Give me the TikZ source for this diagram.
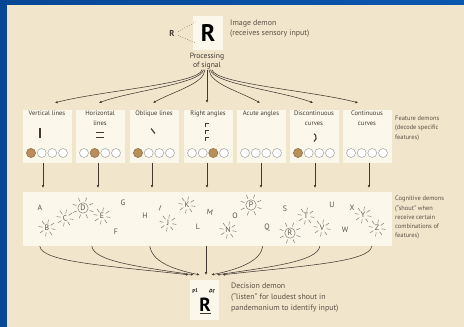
\documentclass[tikz,border=0pt]{standalone}
\usepackage{fontspec}
\setmainfont{PT Sans}
\usetikzlibrary{arrows.meta, positioning, calc}
\definecolor{slideblue}{RGB}{10, 87, 176}
\definecolor{slidedark}{RGB}{8, 70, 150}
\definecolor{paper}{RGB}{241, 229, 204}
\definecolor{panel}{RGB}{251, 247, 234}
\definecolor{ink}{RGB}{66, 58, 50}
\definecolor{labelgray}{RGB}{92, 80, 68}
\definecolor{lettergray}{RGB}{85, 80, 75}
\definecolor{ochre}{RGB}{184, 142, 90}

\tikzset{
  featbox/.style={fill=panel, minimum width=49pt, minimum height=53pt, inner sep=0pt},
  feattitle/.style={font=\fontsize{6.6}{9.8}\selectfont, text=ink, align=center, anchor=north, inner sep=1.2pt},
  sidelabel/.style={font=\fontsize{6.4}{9.3}\selectfont, text=labelgray, align=left, anchor=north west, inner sep=0pt},
  wire/.style={draw=ink, line width=0.55pt},
  tip/.style={-{Latex[length=2.6pt, width=2.6pt]}},
  lamp/.style={circle, draw=gray!65, fill=white, minimum size=9pt, inner sep=0pt, line width=0.6pt},
  lit/.style={lamp, fill=ochre, draw=ochre!85!black},
  letter/.style={font=\fontsize{7.8}{8}\selectfont, text=lettergray, inner sep=0.5pt},
  ray/.style={draw=lettergray!75, line width=0.5pt},
  shouting/.pic={\foreach \a in {10,55,100,145,190,235,280,325} \draw[ray] (\a:4.5) -- (\a:8.5);},
  loud/.pic={\draw[ray] (0,0) circle (5.2);
    \foreach \a in {20,65,110,155,200,245,290,335} \draw[ray] (\a:7) -- (\a:11);}
}

\begin{document}
\begin{tikzpicture}[x=1pt, y=-1pt]
  \useasboundingbox (0,0) rectangle (464,327);
  % slide background
  \shade[left color=slidedark, right color=slideblue] (0,0) rectangle (464,327);
  \fill[paper] (7,5) rectangle (464,327);

  % Image demon
  \node[fill=panel, minimum width=30pt, minimum height=34pt] (img) at (208,33) {};
  \node[font=\bfseries\fontsize{24}{24}\selectfont, text=black] (imgR) at (208,33) {R};
  \node[font=\bfseries\fontsize{8.5}{8.5}\selectfont, text=ink] (seen) at (172,33) {R};
  \draw[ink, dotted, line width=0.5pt] ([yshift=1.5pt]seen.east) -- ([xshift=3pt, yshift=-6pt]img.north west);
  \draw[ink, dotted, line width=0.5pt] ([yshift=-2.5pt]seen.east) -- ([xshift=3pt, yshift=7pt]img.south west);
  \node[sidelabel, font=\fontsize{7.9}{10}\selectfont] (imglabel) at (230,20) {Image demon\\(receives sensory input)};

  \node[font=\fontsize{7.6}{9}\selectfont, text=ink, align=center, inner sep=0pt] (proc) at (207,61.5) {Processing\\of signal};

  % Feature demons
  \foreach \x/\n in {47/1, 100/2, 154/3, 208/4, 261/5, 314/6, 367/7} {
    \node[featbox] (f\n) at (\x,136.5) {};
    \foreach \dx in {-16,-5.3,5.3,16}
      \node[lamp] at (\x+\dx,153) {};
  }
  \node[feattitle] at (f1.north) {Vertical lines};
  \node[feattitle] at (f2.north) {Horizontal\\lines};
  \node[feattitle] at (f3.north) {Oblique lines};
  \node[feattitle] at (f4.north) {Right angles};
  \node[feattitle] at (f5.north) {Acute angles};
  \node[feattitle] at (f6.north) {Discontinuous\\curves};
  \node[feattitle] at (f7.north) {Continuous\\curves};

  \node[lit] at (31,153) {};
  \node[lit] at (94.7,153) {};
  \node[lit] at (138,153) {};
  \node[lit] at (213.3,153) {};
  \node[lit] at (298,153) {};

  % feature symbols
  \draw[ink, line width=1.1pt] (40,128) -- (40,138);
  \draw[ink, line width=1pt] (96,132) -- (104,132) (96,137) -- (104,137);
  \draw[ink, line width=1.1pt] (151,128.5) -- (155,133.5);
  \draw[ink, line width=0.8pt] (205.5,127) -- (205.5,123) -- (208.5,123)
    (205.5,134) -- (205.5,130) -- (208.5,130) (205.5,141) -- (205.5,137) -- (208.5,137);
  \draw[ink, line width=1.1pt] (314,141.5) arc (60:-60:4.5);

  \node[sidelabel] (featlabel) at (395,116) {Feature demons\\(decode specific\\features)};

  % fan from the image demon
  \draw[wire, tip] ([xshift=-5pt]proc.south) .. controls +(-2,14) and +(45,-12) .. ([xshift=8pt, yshift=7pt]f1.north);
  \draw[wire, tip] ([xshift=-3.5pt]proc.south) .. controls +(-2,14) and +(32,-12) .. ([xshift=-1pt, yshift=7pt]f2.north);
  \draw[wire, tip] ([xshift=-2pt]proc.south) .. controls +(-1,14) and +(22,-12) .. ([xshift=-1pt, yshift=7pt]f3.north);
  \draw[wire, tip] (proc.south) -- ([xshift=-1pt, yshift=7pt]f4.north);
  \draw[wire, tip] ([xshift=2pt]proc.south) .. controls +(1,14) and +(-22,-12) .. ([xshift=-1pt, yshift=7pt]f5.north);
  \draw[wire, tip] ([xshift=3.5pt]proc.south) .. controls +(2,14) and +(-32,-12) .. ([xshift=-1pt, yshift=7pt]f6.north);
  \draw[wire, tip] ([xshift=5pt]proc.south) .. controls +(2,14) and +(-45,-12) .. ([xshift=-9pt, yshift=7pt]f7.north);

  % Cognitive demons
  \node[fill=panel, minimum width=369pt, minimum height=54pt, inner sep=0pt] (cog) at (207.5,219) {};

  \draw[wire, tip, shorten >=4pt] ([xshift=-4pt]f1.south) -- ([xshift=-4pt]f1.south |- cog.north);
  \draw[wire, tip, shorten >=4pt] ([xshift=-2pt]f2.south) -- ([xshift=-2pt]f2.south |- cog.north);
  \draw[wire, tip, shorten >=4pt] ([xshift=-2pt]f3.south) -- ([xshift=-2pt]f3.south |- cog.north);
  \draw[wire, tip, shorten >=4pt] ([xshift=-1pt]f4.south) -- ([xshift=-1pt]f4.south |- cog.north);
  \draw[wire, tip, shorten >=4pt] (f5.south) -- (f5.south |- cog.north);
  \draw[wire, tip, shorten >=4pt] ([xshift=1pt]f6.south) -- ([xshift=1pt]f6.south |- cog.north);
  \draw[wire, tip, shorten >=4pt] ([xshift=2pt]f7.south) -- ([xshift=2pt]f7.south |- cog.north);

  \node[letter] (cA) at (40,208) {A};
  \node[letter] (cB) at (47,228) {B};
  \node[letter, rotate=10] (cC) at (65,218) {C};
  \node[letter] (cD) at (83,208) {D};
  \node[letter] (cE) at (102,216) {E};
  \node[letter] (cF) at (116,232) {F};
  \node[letter] (cG) at (123,203) {G};
  \node[letter] (cH) at (145,216) {H};
  \node[letter, rotate=-20] (cI) at (160,208) {I};
  \node[letter] (cJ) at (168,223) {J};
  \node[letter] (cK) at (187,205) {K};
  \node[letter] (cL) at (198,227) {L};
  \node[letter, rotate=-10] (cM) at (210,212) {M};
  \node[letter] (cN) at (228,230) {N};
  \node[letter] (cO) at (235,216) {O};
  \node[letter] (cP) at (251,205) {P};
  \node[letter] (cQ) at (267,227) {Q};
  \node[letter] (cR) at (290,233) {R};
  \node[letter] (cS) at (285,209) {S};
  \node[letter] (cT) at (306,216) {T};
  \node[letter] (cU) at (332,205) {U};
  \node[letter] (cV) at (322,228) {V};
  \node[letter] (cW) at (345,230) {W};
  \node[letter] (cX) at (352,208) {X};
  \node[letter] (cY) at (363,215) {Y};
  \node[letter] (cZ) at (377,228) {Z};

  \pic at (cB) {shouting};
  \pic at (cC) {shouting};
  \pic at (cE) {shouting};
  \pic at (cJ) {shouting};
  \pic at (cK) {shouting};
  \pic at (cN) {shouting};
  \pic at (cT) {shouting};
  \pic at (cV) {shouting};
  \pic at (cY) {shouting};
  \pic at (cZ) {shouting};
  \pic at (cD) {loud};
  \pic at (cP) {loud};
  \pic at (cR) {loud};

  \node[sidelabel] (coglabel) at (395,196) {Cognitive demons\\(“shout” when\\receive certain\\combinations of\\features)};

  % Decision demon
  \node[fill=panel, minimum width=29pt, minimum height=40pt] (dec) at (204.5,300) {};
  \node[font=\bfseries\fontsize{19}{19}\selectfont, text=black] (decR) at (205,305) {R};
  \draw[ink, line width=0.5pt] (200,313.5) -- (211,313.5);
  \node[font=\bfseries\itshape\fontsize{5}{5}\selectfont, text=black, rotate=12] (p1) at (195,291) {P1};
  \node[font=\bfseries\itshape\fontsize{5}{5}\selectfont, text=black, rotate=-12] (d1) at (212,291) {D1};
  \node[sidelabel, font=\fontsize{7.9}{10.8}\selectfont] (declabel) at (231,283) {Decision demon\\(“listen” for loudest shout in\\pandemonium to identify input)};

  \draw[wire, tip] ([xshift=17pt]cog.south west) .. controls +(2,16) and +(-80,-9) .. ([xshift=-16pt, yshift=5pt]dec.north);
  \draw[wire, tip] ([xshift=69pt]cog.south west) .. controls +(2,15) and +(-55,-8) .. ([xshift=-11pt, yshift=5pt]dec.north);
  \draw[wire, tip] ([xshift=127pt]cog.south west) .. controls +(2,14) and +(-30,-6) .. ([xshift=-5pt, yshift=5pt]dec.north);
  \draw[wire, tip] ([xshift=-1.5pt]cog.south) -- ([xshift=1.5pt, yshift=5pt]dec.north);
  \draw[wire, tip] ([xshift=240pt]cog.south west) .. controls +(-2,14) and +(30,-6) .. ([xshift=7pt, yshift=5pt]dec.north);
  \draw[wire, tip] ([xshift=297pt]cog.south west) .. controls +(-2,15) and +(55,-8) .. ([xshift=12.5pt, yshift=5pt]dec.north);
  \draw[wire, tip] ([xshift=349pt]cog.south west) .. controls +(-2,16) and +(80,-9) .. ([xshift=18pt, yshift=5pt]dec.north);
\end{tikzpicture}
\end{document}
